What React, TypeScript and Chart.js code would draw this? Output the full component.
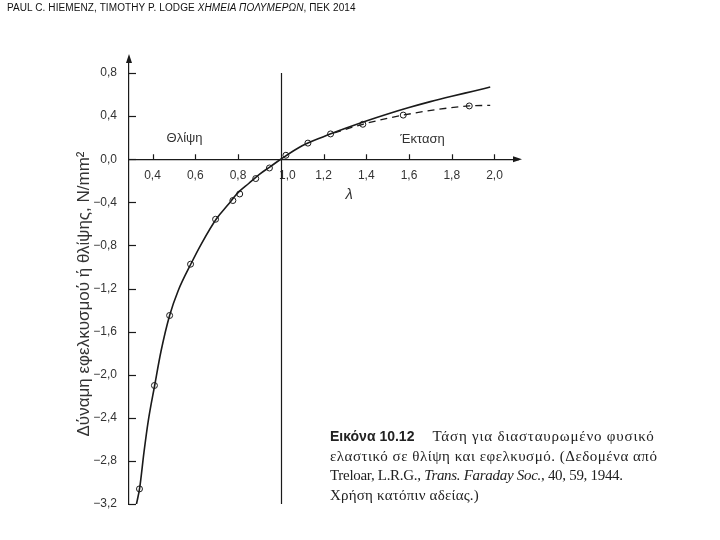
import React, { useEffect, useRef } from "react";
import { Chart, registerables } from "chart.js";

Chart.register(...registerables);

// ---- data ----
const X_TICKS = [0.4, 0.6, 0.8, 1.0, 1.2, 1.4, 1.6, 1.8, 2.0];
const Y_TICKS = [0.8, 0.4, 0.0, -0.4, -0.8, -1.2, -1.6, -2.0, -2.4, -2.8, -3.2];

// measured points (open circles)
const POINT_LAMBDA = [0.339, 0.409, 0.48, 0.578, 0.695, 0.776, 0.808, 0.883, 0.947, 1.024, 1.127, 1.233, 1.384, 1.573, 1.882];
const POINT_STRESS = [-3.06, -2.1, -1.45, -0.974, -0.557, -0.383, -0.322, -0.179, -0.081, 0.037, 0.15, 0.235, 0.325, 0.41, 0.495];

// solid (theory) curve
const SOLID_LAMBDA = [0.325, 0.34, 0.36, 0.38, 0.41, 0.44, 0.48, 0.52, 0.58, 0.63, 0.7, 0.75, 0.8, 0.85, 0.9, 0.95, 1.0, 1.1, 1.2, 1.3, 1.4, 1.5, 1.6, 1.7, 1.8, 1.9, 1.98];
const SOLID_STRESS = [-3.2, -3.05, -2.72, -2.43, -2.1, -1.78, -1.45, -1.22, -0.97, -0.78, -0.55, -0.43, -0.31, -0.225, -0.14, -0.07, 0.0, 0.125, 0.21, 0.285, 0.355, 0.42, 0.48, 0.535, 0.585, 0.632, 0.67];

// dashed curve (experimental trend in extension)
const DASHED_LAMBDA = [1.25, 1.384, 1.573, 1.882, 1.98];
const DASHED_STRESS = [0.245, 0.325, 0.41, 0.495, 0.5];

const X_MIN = 0.29;
const X_MAX = 2.11;
const Y_MIN = -3.2;
const Y_MAX = 0.94;

const fmt = (v: number) => {
  const s = Math.abs(v).toFixed(1).replace(".", ",");
  return v < -1e-9 ? "\u2212" + s : s;
};

const INK = "#1a1a1a";
const TEXT = "#333333";
const SANS = "'Liberation Sans', Arial, sans-serif";

const decorPlugin = {
  id: "decor",
  afterDatasetsDraw(chart: any) {
    const { ctx, chartArea, scales } = chart;
    const xs = scales.x;
    const ys = scales.y;
    const y0 = ys.getPixelForValue(0);
    const xl = chartArea.left;
    ctx.save();
    ctx.strokeStyle = INK;
    ctx.fillStyle = INK;
    ctx.lineWidth = 1.2;

    // y ticks (inward, to the right of the axis)
    Y_TICKS.forEach((v) => {
      const py = Math.round(ys.getPixelForValue(v)) + 0.5;
      ctx.beginPath();
      ctx.moveTo(xl, py);
      ctx.lineTo(xl + 7, py);
      ctx.stroke();
    });
    // x ticks (upward from the axis)
    X_TICKS.forEach((v) => {
      if (Math.abs(v - 1) < 1e-6) return;
      const px = Math.round(xs.getPixelForValue(v)) + 0.5;
      ctx.beginPath();
      ctx.moveTo(px, y0);
      ctx.lineTo(px, y0 - 5);
      ctx.stroke();
    });
    // vertical line at lambda = 1
    const p1 = Math.round(xs.getPixelForValue(1)) + 0.5;
    ctx.beginPath();
    ctx.moveTo(p1, ys.getPixelForValue(0.8));
    ctx.lineTo(p1, ys.getPixelForValue(-3.2));
    ctx.stroke();

    // arrowheads
    const top = chartArea.top;
    ctx.beginPath();
    ctx.moveTo(xl, top - 4);
    ctx.lineTo(xl - 3, top + 5);
    ctx.lineTo(xl + 3, top + 5);
    ctx.closePath();
    ctx.fill();
    const right = chartArea.right;
    ctx.beginPath();
    ctx.moveTo(right + 4, y0);
    ctx.lineTo(right - 5, y0 - 3);
    ctx.lineTo(right - 5, y0 + 3);
    ctx.closePath();
    ctx.fill();

    // annotations
    ctx.fillStyle = TEXT;
    ctx.textAlign = "center";
    ctx.textBaseline = "middle";
    ctx.font = "13px " + SANS;
    ctx.fillText("Θλίψη", xs.getPixelForValue(0.55), ys.getPixelForValue(0.195));
    ctx.fillText("Έκταση", xs.getPixelForValue(1.663), ys.getPixelForValue(0.186));
    ctx.font = "italic 15px " + SANS;
    ctx.fillText("λ", xs.getPixelForValue(1.32), ys.getPixelForValue(-0.334));

    // y axis title
    ctx.save();
    ctx.translate(84, 294);
    ctx.rotate(-Math.PI / 2);
    ctx.font = "17px " + SANS;
    ctx.fillText("Δύναμη εφελκυσμού ή θλίψης, N/mm²", 0, 0);
    ctx.restore();

    ctx.restore();
  },
};

export default function App() {
  const ref = useRef<HTMLCanvasElement | null>(null);

  useEffect(() => {
    if (!ref.current) return;
    const chart = new Chart(ref.current, {
      type: "scatter",
      data: {
        datasets: [
          {
            type: "line",
            label: "solid",
            data: SOLID_LAMBDA.map((x, i) => ({ x, y: SOLID_STRESS[i] })),
            borderColor: INK,
            borderWidth: 1.6,
            pointRadius: 0,
            cubicInterpolationMode: "monotone",
            fill: false,
          } as any,
          {
            type: "line",
            label: "dashed",
            data: DASHED_LAMBDA.map((x, i) => ({ x, y: DASHED_STRESS[i] })),
            borderColor: INK,
            borderWidth: 1.3,
            borderDash: [7, 5],
            pointRadius: 0,
            cubicInterpolationMode: "monotone",
            fill: false,
          } as any,
          {
            label: "points",
            data: POINT_LAMBDA.map((x, i) => ({ x, y: POINT_STRESS[i] })),
            pointRadius: 3,
            pointBackgroundColor: "#ffffff",
            pointBorderColor: INK,
            pointBorderWidth: 1,
            showLine: false,
          },
        ],
      },
      options: {
        animation: false,
        responsive: false,
        devicePixelRatio: 1,
        layout: { padding: { top: 58, bottom: 36, left: 0, right: 202 } },
        plugins: { legend: { display: false }, tooltip: { enabled: false } },
        scales: {
          x: {
            type: "linear",
            min: X_MIN,
            max: X_MAX,
            position: { y: 0 } as any,
            grid: { display: false },
            border: { display: true, color: INK, width: 1.2 },
            afterBuildTicks: (s: any) => {
              s.ticks = X_TICKS.map((value) => ({ value }));
            },
            ticks: {
              padding: 1,
              color: TEXT,
              font: { size: 12, family: SANS },
              maxRotation: 0,
              autoSkip: false,
              callback: (v: any) => {
                const n = Number(v);
                // the 1,0 label sits just right of the vertical line
                return Math.abs(n - 1) < 1e-6 ? "    " + fmt(n) : fmt(n);
              },
            },
          },
          y: {
            type: "linear",
            min: Y_MIN,
            max: Y_MAX,
            position: "left",
            grid: { display: false },
            border: { display: true, color: INK, width: 1.2 },
            afterBuildTicks: (s: any) => {
              s.ticks = Y_TICKS.map((value) => ({ value }));
            },
            afterFit: (s: any) => {
              s.width = 129;
            },
            ticks: {
              padding: 4,
              color: TEXT,
              font: { size: 12, family: SANS },
              autoSkip: false,
              callback: (v: any) => fmt(Number(v)),
            },
          },
        },
      },
      plugins: [decorPlugin],
    });
    return () => chart.destroy();
  }, []);

  return (
    <div style={{ position: "fixed", left: 0, top: 0, width: 720, height: 540, background: "#fff", overflow: "hidden" }}>
      <canvas ref={ref} width={720} height={540} style={{ position: "absolute", left: 0, top: 0 }} />
      <div
        style={{
          position: "absolute",
          left: 7,
          top: 2,
          fontFamily: SANS,
          fontSize: 10,
          lineHeight: "12px",
          color: "#111",
          whiteSpace: "nowrap",
          letterSpacing: "0.1px",
        }}
      >
        PAUL C. HIEMENZ, TIMOTHY P. LODGE <i>ΧΗΜΕΙΑ ΠΟΛΥΜΕΡΩΝ</i>, ΠΕΚ 2014
      </div>
      <div
        style={{
          position: "absolute",
          left: 330,
          top: 427,
          fontFamily: "'Liberation Serif', 'DejaVu Serif', serif",
          fontSize: 15,
          lineHeight: "19.7px",
          color: "#222",
          whiteSpace: "nowrap",
        }}
      >
        <div>
          <span style={{ fontFamily: SANS, fontWeight: "bold", fontSize: 14 }}>Εικόνα 10.12</span>
          <span style={{ display: "inline-block", width: 18 }} />
          <span style={{ letterSpacing: "0.8px" }}>Τάση για διασταυρωμένο φυσικό</span>
        </div>
        <div style={{ letterSpacing: "0.5px" }}>ελαστικό σε θλίψη και εφελκυσμό. (Δεδομένα από</div>
        <div style={{ letterSpacing: "-0.3px" }}>
          Treloar, L.R.G., <i>Trans. Faraday Soc.</i>, 40, 59, 1944.
        </div>
        <div style={{ letterSpacing: "0.2px" }}>Χρήση κατόπιν αδείας.)</div>
      </div>
    </div>
  );
}
